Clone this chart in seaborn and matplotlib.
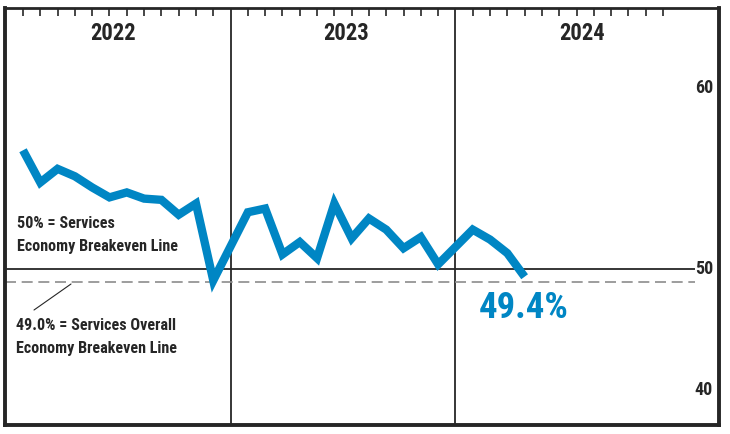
import matplotlib
matplotlib.use("Agg")
import matplotlib.pyplot as plt
from matplotlib import font_manager as fm
import seaborn as sns
import pandas as pd

# ---- data ----
years = ["2022", "2023", "2024"]
vals_2022 = [59.6, 57.0, 58.1, 57.5, 56.6, 55.8, 56.2, 55.7, 55.6, 54.4, 55.3, 49.1]
vals_2023 = [54.6, 54.9, 51.2, 52.2, 50.9, 55.3, 52.5, 54.1, 53.2, 51.7, 52.6, 50.4]
vals_2024 = [53.2, 52.4, 51.3, 49.4]
ytick_labels = ["60", "50", "40"]
breakeven_services = 50.0
breakeven_overall = 49.0
last_label = "49.4%"

BLUE = "#0086C4"
DARK = "#262626"
GREY = "#8c8c8c"

# pick a condensed bold family that is actually installed
prefs = ["Roboto Condensed", "Archivo Narrow", "Barlow Semi Condensed",
         "Liberation Sans Narrow", "PT Sans Narrow", "Asap Condensed",
         "IBM Plex Sans Condensed", "Encode Sans Condensed", "Barlow Condensed"]
available = {}
for f in fm.fontManager.ttflist:
    w = f.weight if isinstance(f.weight, int) else 700 if str(f.weight) == "bold" else 400
    available.setdefault(f.name, set()).add(w)
chosen = None
for p in prefs:
    if p in available and any(w >= 600 for w in available[p]):
        chosen = p
        break
if chosen is None:
    for p in prefs:
        if p in available:
            chosen = p
            break
FONT = ([chosen] if chosen else []) + ["DejaVu Sans"]

# slot layout: 12 month slots per year + 1 slot for the year divider
SLOTS_PER_YEAR = 13
series = [vals_2022, vals_2023, vals_2024]
rows = []
for yi, vals in enumerate(series):
    for m, v in enumerate(vals):
        rows.append({"slot": yi * SLOTS_PER_YEAR + m, "value": v})
df = pd.DataFrame(rows)

sns.set_theme(style="white")
plt.rcParams["font.family"] = FONT
plt.rcParams["font.weight"] = "bold"

W, H = 730, 434
fig = plt.figure(figsize=(W / 100, H / 100), dpi=100)
ax_l, ax_r, ax_t, ax_b = 5, 719, 8, 425
ax = fig.add_axes([ax_l / W, (H - ax_b) / H, (ax_r - ax_l) / W, (ax_b - ax_t) / H])

# pixel geometry helpers
x0_px, dx_px = 23, 17.297
y50_px, k_px = 269.3, 12.4
xlim = ((ax_l - x0_px) / dx_px, (ax_r - x0_px) / dx_px)
ylim = (50 - (ax_b - y50_px) / k_px, 50 + (y50_px - ax_t) / k_px)
ax.set_xlim(*xlim)
ax.set_ylim(*ylim)

def ax_frac(px, py):
    return ((px - ax_l) / (ax_r - ax_l), (ax_b - py) / (ax_b - ax_t))

# year dividers
for yi in range(1, len(years)):
    ax.axvline(yi * SLOTS_PER_YEAR - 1, color=DARK, lw=1.3, zorder=1)

# breakeven lines
x_end = (695 - x0_px) / dx_px
ax.hlines(breakeven_services, xlim[0], x_end, color=DARK, lw=1.3, zorder=1)
ax.hlines(breakeven_overall, xlim[0], x_end, color=GREY, lw=1.2,
          linestyles=(0, (6.6, 3.4)), zorder=1)

# main series
sns.lineplot(data=df, x="slot", y="value", color=BLUE, lw=6.0, ax=ax,
             zorder=3, legend=False)
for ln in ax.lines:
    ln.set_solid_joinstyle("miter")
    ln.set_solid_capstyle("butt")

# top month ticks
tick_slots = [yi * SLOTS_PER_YEAR + m for yi in range(len(years)) for m in range(12)]
ax.set_xticks(tick_slots)
ax.tick_params(axis="x", which="both", top=True, bottom=False, direction="in",
               length=6, width=1.2, color=DARK, labeltop=False, labelbottom=False)
ax.set_xlabel("")
ax.set_ylabel("")

# right-side value labels (placed where the reference prints them)
ax.set_yticks([])
ytick_pos = [50 + (y50_px - 88) / k_px, 50.0, 50 - (390 - y50_px) / k_px]
label_x = ax_frac(713, 0)[0]
for pos, lab in zip(ytick_pos, ytick_labels):
    ax.text(label_x, pos, lab, transform=ax.get_yaxis_transform(), ha="right",
            va="center", fontsize=13, fontweight="bold", color=DARK, family=FONT)

# year labels
year_centers_px = [113, 346, 582]
for yr, cx in zip(years, year_centers_px):
    ax.text(*ax_frac(cx, 33.5), yr, transform=ax.transAxes, ha="center", va="center",
            fontsize=16.3, fontweight="bold", color=DARK, family=FONT)

# annotations
note_kw = dict(transform=ax.transAxes, ha="left", va="center", fontsize=11.6,
               fontweight="bold", color=DARK, family=FONT)
ax.text(*ax_frac(17, 223), "50% = Services", **note_kw)
ax.text(*ax_frac(17, 246), "Economy Breakeven Line", **note_kw)
ax.text(*ax_frac(16, 326), "49.0% = Services Overall", **note_kw)
ax.text(*ax_frac(16, 348), "Economy Breakeven Line", **note_kw)
(lx0, ly0), (lx1, ly1) = ax_frac(34, 310), ax_frac(71, 284)
ax.plot([lx0, lx1], [ly0, ly1], transform=ax.transAxes, color=DARK, lw=0.8)

ax.text(*ax_frac(523.5, 307.5), last_label, transform=ax.transAxes, ha="center",
        va="center", fontsize=26.5, fontweight="bold", color=BLUE, family=FONT)

# frame
for name, sp in ax.spines.items():
    sp.set_visible(True)
    sp.set_color(DARK)
    sp.set_linewidth(2.0 if name == "top" else 2.8)

fig.savefig("out.png", dpi=100, facecolor="white")
